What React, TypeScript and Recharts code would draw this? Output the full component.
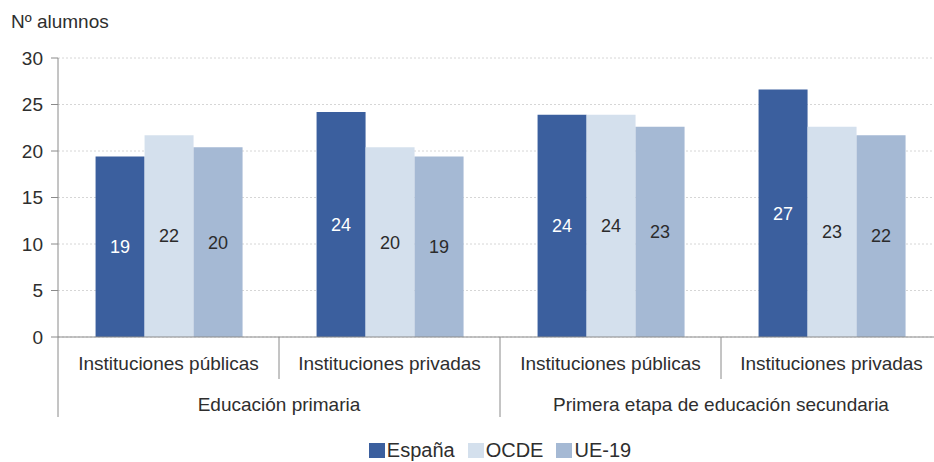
import { BarChart, Bar, XAxis, YAxis, CartesianGrid, LabelList } from "recharts";

const categories = [
  "Instituciones públicas",
  "Instituciones privadas",
  "Instituciones públicas",
  "Instituciones privadas",
];
const groups = [
  "Educación primaria",
  "Educación primaria",
  "Primera etapa de educación secundaria",
  "Primera etapa de educación secundaria",
];
const espana = [19.4, 24.2, 23.9, 26.6];
const ocde = [21.7, 20.4, 23.9, 22.6];
const ue19 = [20.4, 19.4, 22.6, 21.7];
const yTicks = [0, 5, 10, 15, 20, 25, 30];

const series = [
  { key: "espana", name: "España", color: "#3b5f9e", text: "#ffffff" },
  { key: "ocde", name: "OCDE", color: "#d4e0ed", text: "#2b2b2b" },
  { key: "ue19", name: "UE-19", color: "#a5b9d4", text: "#2b2b2b" },
];

const data = categories.map((c, i) => ({
  cat: c,
  group: groups[i],
  espana: espana[i],
  ocde: ocde[i],
  ue19: ue19[i],
}));

const FONT = "'Liberation Sans', Arial, sans-serif";
const TEXT = "#2e2e2e";
const AXIS = "#8a8a8a";

function CatTick(props: any) {
  const { x, y, payload, index } = props;
  const half = payload?.offset ?? 110.5;
  const isGroupStart = index % 2 === 0;
  return (
    <g>
      <line
        x1={x - half}
        x2={x - half}
        y1={y}
        y2={y + (isGroupStart ? 80 : 42)}
        stroke={AXIS}
        strokeWidth={1}
      />
      <text x={x} y={y + 33} textAnchor="middle" fill={TEXT} fontSize={19} fontFamily={FONT}>
        {payload.value}
      </text>
      {isGroupStart && (
        <text x={x + half} y={y + 74} textAnchor="middle" fill={TEXT} fontSize={19} fontFamily={FONT}>
          {groups[index]}
        </text>
      )}
    </g>
  );
}

export default function App() {
  return (
    <div
      style={{
        position: "fixed",
        left: 0,
        top: 0,
        width: 934,
        height: 462,
        overflow: "hidden",
        background: "#fff",
        fontFamily: FONT,
      }}
    >
      <div style={{ position: "absolute", left: 11, top: 11, fontSize: 19, lineHeight: "22px", color: TEXT }}>
        Nº alumnos
      </div>
      <BarChart
        width={942}
        height={462}
        data={data}
        margin={{ top: 58, right: 0, left: 0, bottom: 35 }}
        barCategoryGap="17%"
        barGap={0}
      >
        <CartesianGrid vertical={false} stroke="#d6d6d6" strokeDasharray="2 2" />
        <XAxis
          dataKey="cat"
          height={90}
          interval={0}
          tickSize={0}
          tickMargin={0}
          tickLine={false}
          stroke={AXIS}
          tick={<CatTick />}
        />
        <YAxis
          width={58}
          domain={[0, 30]}
          ticks={yTicks}
          interval={0}
          tickSize={7}
          tickMargin={8}
          stroke={AXIS}
          tick={{ fill: TEXT, fontSize: 19, fontFamily: FONT }}
        />
        {series.map((s) => (
          <Bar key={s.key} dataKey={s.key} name={s.name} fill={s.color} isAnimationActive={false}>
            <LabelList
              dataKey={s.key}
              position="center"
              formatter={(v: any) => Math.round(Number(v))}
              fill={s.text}
              fontSize={18}
              fontFamily={FONT}
            />
          </Bar>
        ))}
      </BarChart>
      <div
        style={{
          position: "absolute",
          left: 58,
          width: 884,
          top: 439,
          height: 22,
          lineHeight: "22px",
          display: "flex",
          justifyContent: "center",
          alignItems: "center",
          gap: 13,
          fontSize: 20,
          color: TEXT,
        }}
      >
        {series.map((s) => (
          <div key={s.key} style={{ display: "flex", alignItems: "center", gap: 2 }}>
            <span style={{ display: "inline-block", width: 16, height: 15, background: s.color }} />
            <span>{s.name}</span>
          </div>
        ))}
      </div>
    </div>
  );
}
